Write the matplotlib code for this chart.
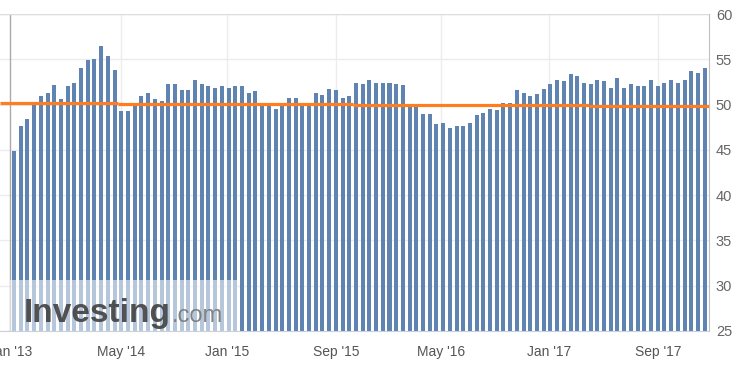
import matplotlib
matplotlib.use("Agg")
import matplotlib.pyplot as plt
from matplotlib.patches import Rectangle
import numpy as np

plt.rcParams['font.family'] = ['Liberation Sans', 'DejaVu Sans']

# ---- data (semi-monthly readings) ----
values = [
    44.9, 47.65, 48.4, 50.0, 50.96, 51.3, 52.2, 50.6, 52.06, 52.4,
    54.05, 54.93, 55.04, 56.47, 55.37, 53.83, 49.3, 49.3, 49.86, 50.96,
    51.3, 50.6, 50.4, 52.28, 52.28, 51.6, 51.6, 52.7, 52.28, 52.06,
    51.84, 52.06, 51.84, 52.06, 52.06, 51.3, 51.5, 50.0, 49.9, 49.5,
    49.9, 50.74, 50.74, 49.9, 49.9, 51.3, 51.07, 51.73, 51.6, 50.74,
    50.96, 52.4, 52.28, 52.7, 52.4, 52.4, 52.4, 52.28, 52.17, 49.9,
    49.9, 48.97, 48.97, 47.87, 47.98, 47.43, 47.65, 47.65, 47.98, 48.86,
    49.08, 49.53, 49.4, 50.19, 50.19, 51.6, 51.3, 50.96, 51.18, 51.73,
    52.28, 52.72, 52.6, 53.38, 53.16, 52.4, 52.28, 52.72, 52.6, 51.84,
    52.94, 51.84, 52.28, 52.06, 52.06, 52.72, 52.06, 52.4, 52.72, 52.4,
    52.72, 53.7, 53.5, 54.05,
]
# orange reference line: level values and the bar positions where it steps
ref_levels = [50.15, 50.04, 49.93, 49.83]
ref_breaks = [15.5, 50.6, 85.8]

tick_labels = ["Jan '13", "May '14", "Jan '15", "Sep '15", "May '16", "Jan '17", "Sep '17"]
tick_pos = [-0.6, 16.03, 31.8, 48.0, 63.7, 79.8, 96.1]
y_ticks = [25, 30, 35, 40, 45, 50, 55, 60]

# ---- figure ----
W, H = 736, 367
fig = plt.figure(figsize=(W / 100, H / 100), dpi=100)
ax = fig.add_axes([0 / W, (H - 331) / H, 709 / W, (331 - 14) / H])

x = np.arange(len(values))
xmin, xmax = -2.09, 103.65
ax.set_xlim(xmin, xmax)
ax.set_ylim(25, 60)

# grid
for yv in y_ticks:
    ax.axhline(yv, color='#ececec', lw=1, zorder=0)
for i, tp in enumerate(tick_pos):
    ax.axvline(tp, color='#aaaaaa' if i == 0 else '#ececec', lw=1, zorder=0 if i else 1)

ax.bar(x, np.array(values) - 25, bottom=25, width=0.6, color='#5f84b1', zorder=2)

# orange step line
edges = [xmin] + ref_breaks + [xmax]
for lv, x0, x1 in zip(ref_levels, edges[:-1], edges[1:]):
    ax.plot([x0, x1], [lv, lv], color='#ff7c1f', lw=2.3, solid_capstyle='butt', zorder=4)

# watermark overlay
ax.add_patch(Rectangle((tick_pos[0], 25), 33.3 - tick_pos[0], 5.6,
                       facecolor='white', alpha=0.55, edgecolor='none', zorder=3))
t1 = fig.text(24 / W, (H - 322) / H, "Investing", fontsize=24, fontweight='bold',
              color='#444444', ha='left', va='baseline', zorder=5, alpha=0.92)
fig.canvas.draw()
bb = t1.get_window_extent(fig.canvas.get_renderer())
fig.text(bb.x1 / W + 1 / W, (H - 322) / H, ".com", fontsize=17, color='#777777',
         ha='left', va='baseline', zorder=5, alpha=0.9)

# spines
for s in ['left', 'top']:
    ax.spines[s].set_visible(False)
ax.axhline(60, color='#dddddd', lw=1, zorder=1)
ax.spines['right'].set_color('#c0c0c0')
ax.spines['bottom'].set_color('#c8d0dc')

ax.yaxis.tick_right()
ax.set_yticks(y_ticks)
ax.set_yticklabels([str(v) for v in y_ticks])
ax.set_xticks(tick_pos)
ax.set_xticklabels(tick_labels)
ax.tick_params(axis='both', length=0, labelsize=10, colors='#555555')
ax.tick_params(axis='y', pad=5, labelsize=10.5, colors='#666666')
ax.tick_params(axis='x', pad=10)

fig.savefig("out.png", dpi=100)
